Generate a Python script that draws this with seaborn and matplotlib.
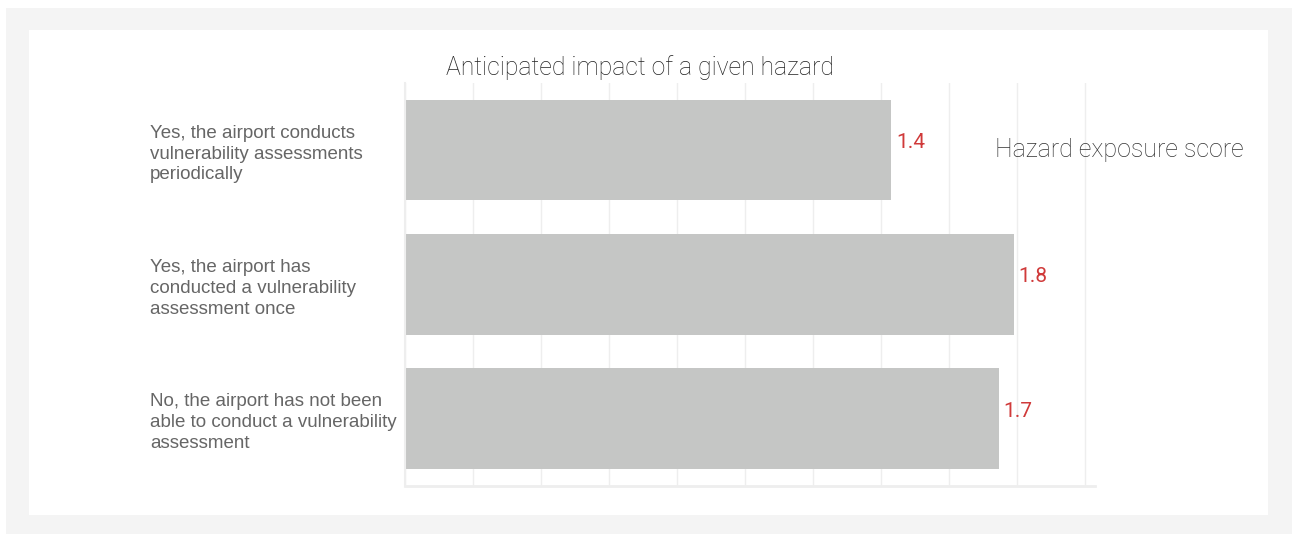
import matplotlib
matplotlib.use("Agg")
import matplotlib.pyplot as plt
from matplotlib.patches import Rectangle
import seaborn as sns
import pandas as pd
import numpy as np

categories = [
    "Yes, the airport conducts\nvulnerability assessments\nperiodically",
    "Yes, the airport has\nconducted a vulnerability\nassessment once",
    "No, the airport has not been\nable to conduct a vulnerability\nassessment",
]
scores = [1.43, 1.79, 1.745]
score_labels = ["1.4", "1.8", "1.7"]
title_text = "Anticipated impact of a given hazard"
axis_title = "Hazard exposure score"

W, H = 1292, 534
fig = plt.figure(figsize=(W / 100, H / 100), dpi=100)
fig.patch.set_facecolor("white")

# background panels
fig.patches.append(Rectangle((6 / W, 0), (W - 6) / W, (H - 8) / H, transform=fig.transFigure,
                             facecolor="#f4f4f4", edgecolor="none", zorder=-10))
fig.patches.append(Rectangle((29 / W, (H - 515) / H), (1268 - 29) / W, (515 - 30) / H,
                             transform=fig.transFigure, facecolor="white", edgecolor="none", zorder=-9))

ax = fig.add_axes([404.5 / W, (H - 485.7) / H, (1095 - 404.5) / W, (485.7 - 83) / H])
ax.set_facecolor("none")

df = pd.DataFrame({"category": categories, "score": scores})
sns.barplot(data=df, x="score", y="category", orient="h", color="#c5c6c5",
            saturation=1, width=0.75, ax=ax, zorder=2)

ax.set_xlim(0, 2.028)
ax.set_ylim(2.5, -0.5)
ax.set_xticks(np.arange(0, 2.01, 0.2))
ax.set_xticklabels([])
ax.tick_params(axis="x", length=0)
ax.grid(axis="x", color="#eeeeee", linewidth=1.0, zorder=0)
ax.set_axisbelow(True)
ax.set_xlabel("")
ax.set_ylabel("")

for s in ["top", "right"]:
    ax.spines[s].set_visible(False)
ax.spines["bottom"].set_color("#eeeeee")
ax.spines["bottom"].set_linewidth(2)
ax.spines["left"].set_color("#eeeeee")
ax.spines["left"].set_linewidth(1.5)

ax.tick_params(axis="y", length=0, pad=(404.5 - 150) * 0.72, labelsize=13.5, labelcolor="#666666")
for lab in ax.get_yticklabels():
    lab.set_ha("left")
    lab.set_multialignment("left")
    lab.set_fontfamily("Liberation Sans")
    lab.set_linespacing(1.3)

for i, (v, t) in enumerate(zip(scores, score_labels)):
    ax.annotate(t, xy=(v, i), xytext=(3.4, 5.4), textcoords="offset points",
                ha="left", va="center", color="#d03a3a", fontsize=15,
                fontfamily="Roboto", fontweight="normal")

fig.text(640 / W, (H - 68) / H, title_text, ha="center", va="center", fontsize=17.8,
         fontfamily="Roboto", fontweight="light", color="#222222")
fig.text(995 / W, (H - 150) / H, axis_title, ha="left", va="center", fontsize=18,
         fontfamily="Roboto", fontweight="light", color="#333333")

fig.savefig("out.png", dpi=100, facecolor="white")
